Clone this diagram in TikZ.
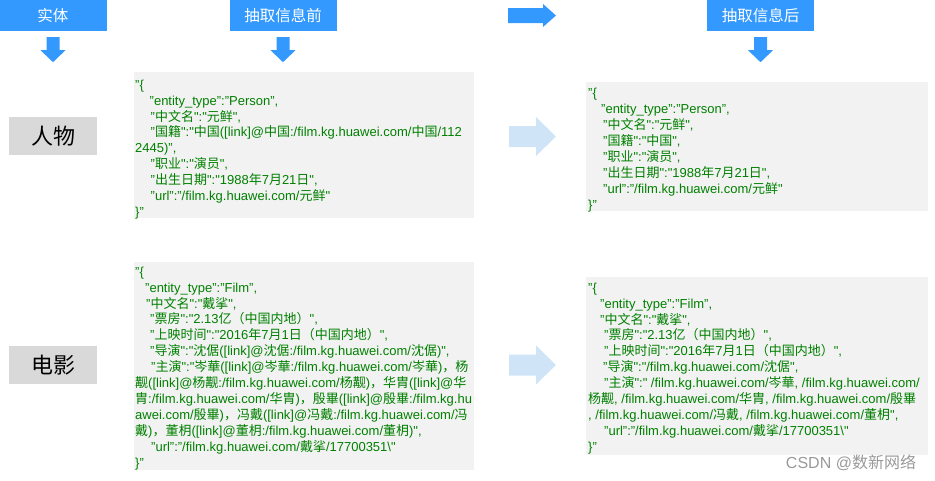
\documentclass[tikz,border=0pt]{standalone}
\usepackage{fontspec}
\usetikzlibrary{calc}
\setmainfont{Liberation Sans}
\newfontfamily\cjkf{Noto Sans CJK SC}
\newfontfamily\latf{Liberation Sans}
\newXeTeXintercharclass\cjkcls
\newcount\cjkcc
\cjkcc="4E00
\loop\ifnum\cjkcc<"A000 \XeTeXcharclass\cjkcc=\cjkcls \advance\cjkcc by 1 \repeat
\cjkcc="3000
\loop\ifnum\cjkcc<"3040 \XeTeXcharclass\cjkcc=\cjkcls \advance\cjkcc by 1 \repeat
\cjkcc="FF00
\loop\ifnum\cjkcc<"FFF0 \XeTeXcharclass\cjkcc=\cjkcls \advance\cjkcc by 1 \repeat
\XeTeXinterchartoks 0 \cjkcls = {\cjkf}
\XeTeXinterchartoks 4095 \cjkcls = {\cjkf}
\XeTeXinterchartoks \cjkcls 0 = {\latf}
\XeTeXinterchartoks \cjkcls 4095 = {\latf}
\XeTeXinterchartokenstate=1
\definecolor{hdrblue}{HTML}{3399FF}
\definecolor{paleblue}{HTML}{D0E4F8}
\definecolor{jsongreen}{HTML}{008000}
\definecolor{boxgrey}{HTML}{F2F2F2}
\definecolor{labgrey}{HTML}{D9D9D9}
\begin{document}
\begin{tikzpicture}[x=1pt,y=-1pt,
  hdrbox/.style={fill=hdrblue,text=white,inner sep=0pt,minimum width=107pt,minimum height=31pt,font=\fontsize{15.5}{18}\selectfont},
  labbox/.style={fill=labgrey,text=black,inner sep=0pt,minimum width=88pt,minimum height=38pt,font=\fontsize{22}{26}\selectfont},
  jsonbg/.style={fill=boxgrey},
  jsontxt/.style={anchor=north west,align=left,inner sep=0pt,text=jsongreen,font=\fontsize{13}{15.9}\selectfont},
  hdrarrow/.style={fill=hdrblue},
  palearrow/.style={fill=paleblue}]
\useasboundingbox (0,0) rectangle (935,480);
% header boxes
\node[hdrbox] (h1) at (53,15.5) {实体};
\node[hdrbox] (h2) at (283,15.5) {抽取信息前};
\node[hdrbox] (h3) at (760.5,15.5) {抽取信息后};
% down arrows
\foreach \h in {h1,h2,h3}{
  \coordinate (\h a) at ($(\h.south)+(0,6)$);
  \fill[hdrarrow] (\h a) ++(-6.5,0) -- ++(13,0) -- ++(0,13) -- ++(6,0) -- ++(-12.5,12) -- ++(-12.5,-12) -- ++(6,0) -- cycle;
}
% top right arrow
\coordinate (ra) at (508,15.5);
\fill[hdrarrow] (ra) ++(0,-7.5) -- ++(35,0) -- ++(0,-4) -- ++(13,11.5) -- ++(-13,11.5) -- ++(0,-4) -- ++(-35,0) -- cycle;
% entity labels
\node[labbox] (p) at (53,136) {人物};
\node[labbox] (f) at (53,365) {电影};
% JSON boxes
\node[jsonbg,inner sep=0pt,minimum width=340pt,minimum height=146pt,anchor=north west] (bl1) at (134,72) {};
\node[jsonbg,inner sep=0pt,minimum width=340pt,minimum height=208pt,anchor=north west] (bl2) at (134,262) {};
\node[jsonbg,inner sep=0pt,minimum width=342pt,minimum height=129pt,anchor=north west] (br1) at (586,82) {};
\node[jsonbg,inner sep=0pt,minimum width=342pt,minimum height=178pt,anchor=north west] (br2) at (586,277) {};
% pale arrows
\coordinate (pa1) at (509,136.5);
\coordinate (pa2) at (509,365);
\foreach \c in {pa1,pa2}{
  \fill[palearrow] (\c) ++(0,-10.5) -- ++(27,0) -- ++(0,-9) -- ++(20,19.5) -- ++(-20,19.5) -- ++(0,-9) -- ++(-27,0) -- cycle;
}
% JSON texts
\node[jsontxt] (tl1) at (135,79.5) {\rule{0pt}{9.5pt}"\{\\
\hspace*{14.5pt}"entity\_type":"Person",\\
\hspace*{15.5pt}"中文名":"元鲜",\\
\hspace*{15.5pt}"国籍":"中国([link]@中国:/film.kg.huawei.com/中国/112\\
2445)",\\
\hspace*{15.5pt}"职业":"演员",\\
\hspace*{15.5pt}"出生日期":"1988年7月21日",\\
\hspace*{15.5pt}"url":"/film.kg.huawei.com/元鲜"\\
\}"};
\node[jsontxt] (tl2) at (135,266.5) {\rule{0pt}{9.5pt}"\{\\
\hspace*{10pt}"entity\_type":"Film",\\
\hspace*{11pt}"中文名":"戴挲",\\
\hspace*{15pt}"票房":"2.13亿（中国内地）",\\
\hspace*{15pt}"上映时间":"2016年7月1日（中国内地）",\\
\hspace*{15pt}"导演":"沈倨([link]@沈倨:/film.kg.huawei.com/沈倨)",\\
\hspace*{16pt}"主演":"岑華([link]@岑華:/film.kg.huawei.com/岑華)，杨\\
觏([link]@杨觏:/film.kg.huawei.com/杨觏)，华胄([link]@华\\
胄:/film.kg.huawei.com/华胄)，殷畢([link]@殷畢:/film.kg.hu\\
awei.com/殷畢)，冯戴([link]@冯戴:/film.kg.huawei.com/冯\\
戴)，董枂([link]@董枂:/film.kg.huawei.com/董枂)",\\
\hspace*{16pt}"url":"/film.kg.huawei.com/戴挲/17700351\textbackslash"\\
\}"};
\node[jsontxt] (tr1) at (588,88) {\rule{0pt}{9.5pt}"\{\\
\hspace*{13pt}"entity\_type":"Person",\\
\hspace*{15pt}"中文名":"元鲜",\\
\hspace*{15pt}"国籍":"中国",\\
\hspace*{15pt}"职业":"演员",\\
\hspace*{15pt}"出生日期":"1988年7月21日",\\
\hspace*{15pt}"url":"/film.kg.huawei.com/元鲜"\\
\}"};
\node[jsontxt] (tr2) at (588,282.5) {\rule{0pt}{9.5pt}"\{\\
\hspace*{12pt}"entity\_type":"Film",\\
\hspace*{12pt}"中文名":"戴挲",\\
\hspace*{16pt}"票房":"2.13亿（中国内地）",\\
\hspace*{16pt}"上映时间":"2016年7月1日（中国内地）",\\
\hspace*{15pt}"导演":"/film.kg.huawei.com/沈倨",\\
\hspace*{16pt}"主演":" /film.kg.huawei.com/岑華, /film.kg.huawei.com/\\
杨觏, /film.kg.huawei.com/华胄, /film.kg.huawei.com/殷畢\\
, /film.kg.huawei.com/冯戴, /film.kg.huawei.com/董枂",\\
\hspace*{16pt}"url":"/film.kg.huawei.com/戴挲/17700351\textbackslash"\\
\}"};
% watermark
\node[text=black!40,inner sep=0pt,font=\fontsize{16}{19}\selectfont] (wm) at (851,463) {CSDN @数新网络};
\end{tikzpicture}
\end{document}
